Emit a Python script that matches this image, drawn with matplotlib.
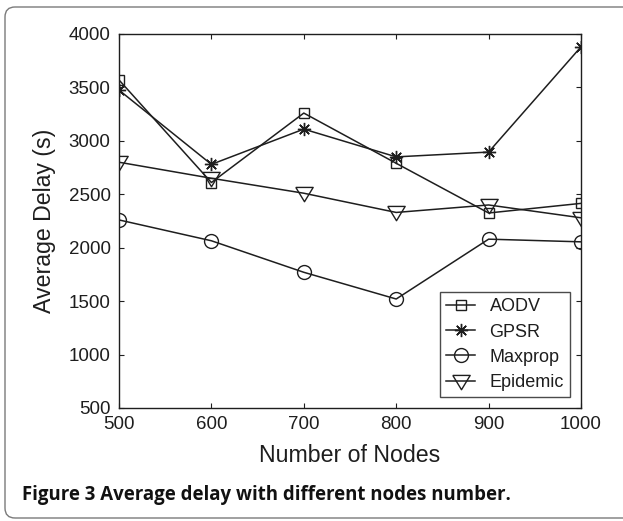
import matplotlib
matplotlib.use("Agg")
import matplotlib.pyplot as plt
from matplotlib.patches import FancyBboxPatch

# data
nodes = [500, 600, 700, 800, 900, 1000]
aodv = [3570, 2610, 3260, 2790, 2325, 2415]
gpsr = [3475, 2780, 3110, 2850, 2895, 3880]
maxprop = [2260, 2065, 1770, 1520, 2080, 2055]
epidemic = [2800, 2650, 2510, 2330, 2400, 2280]

# matlab style down triangle, a bit wider than tall
tri = [(-1, 0.7), (1, 0.7), (0, -0.95), (-1, 0.7)]

series = [("AODV", aodv, "s", 7.5), ("GPSR", gpsr, (8, 2, 0), 9.5),
          ("Maxprop", maxprop, "o", 10), ("Epidemic", epidemic, tri, 12.5)]

ink = "#1e1e1e"
plt.rcParams["font.family"] = ["Liberation Sans", "DejaVu Sans"]

fig = plt.figure(figsize=(6.23, 5.21), dpi=100)

# rounded frame round the whole figure (right side runs off the picture)
frame = FancyBboxPatch((5 / 623, 3 / 521), 1.05, 511 / 521,
                       boxstyle="round,pad=0,rounding_size=0.016",
                       transform=fig.transFigure, facecolor="none", edgecolor="#7a7a7a",
                       linewidth=1.0, mutation_aspect=623 / 521)
fig.patches.append(frame)

ax = fig.add_axes([119 / 623, 1 - 408 / 521, 462 / 623, 374 / 521])
for name, vals, mk, ms in series:
    ax.plot(nodes, vals, color=ink, linewidth=1.1, marker=mk, markersize=ms,
            markerfacecolor="none", markeredgecolor=ink, markeredgewidth=1.0, label=name)

ax.set_xlim(500, 1000)
ax.set_ylim(500, 4000)
ax.set_xticks(range(500, 1001, 100))
ax.set_yticks(range(500, 4001, 500))
ax.tick_params(direction="in", length=3.6, width=0.8, labelsize=13.5, colors=ink,
               top=True, right=True)
ax.tick_params(axis="x", pad=6)
ax.tick_params(axis="y", pad=6)
for s in ax.spines.values():
    s.set_linewidth(1.0)
    s.set_color(ink)
ax.set_xlabel("Number of Nodes", fontsize=16.7, color=ink)
ax.set_ylabel("Average Delay (s)", fontsize=16.7, color=ink)
ax.xaxis.set_label_coords(0.5, (408 - 455) / 374)
ax.xaxis.label.set_va("center")
ax.yaxis.set_label_coords((45 - 119) / 462, 0.5)
ax.yaxis.label.set_va("center")

leg = ax.legend(loc="lower right", fontsize=13, frameon=True, fancybox=False,
                edgecolor=ink, handlelength=1.6, borderpad=0.35, labelspacing=0.45,
                handletextpad=0.8, borderaxespad=0.6)
leg.get_frame().set_linewidth(1.0)
for t in leg.get_texts():
    t.set_color(ink)

# caption
fig.text(22 / 623, 1 - 495 / 521, "Figure 3 Average delay with different nodes number.",
         fontsize=13.4, fontweight="bold", family=["Open Sans", "DejaVu Sans"],
         va="center", color="#111111")

fig.savefig("out.png", dpi=100)
